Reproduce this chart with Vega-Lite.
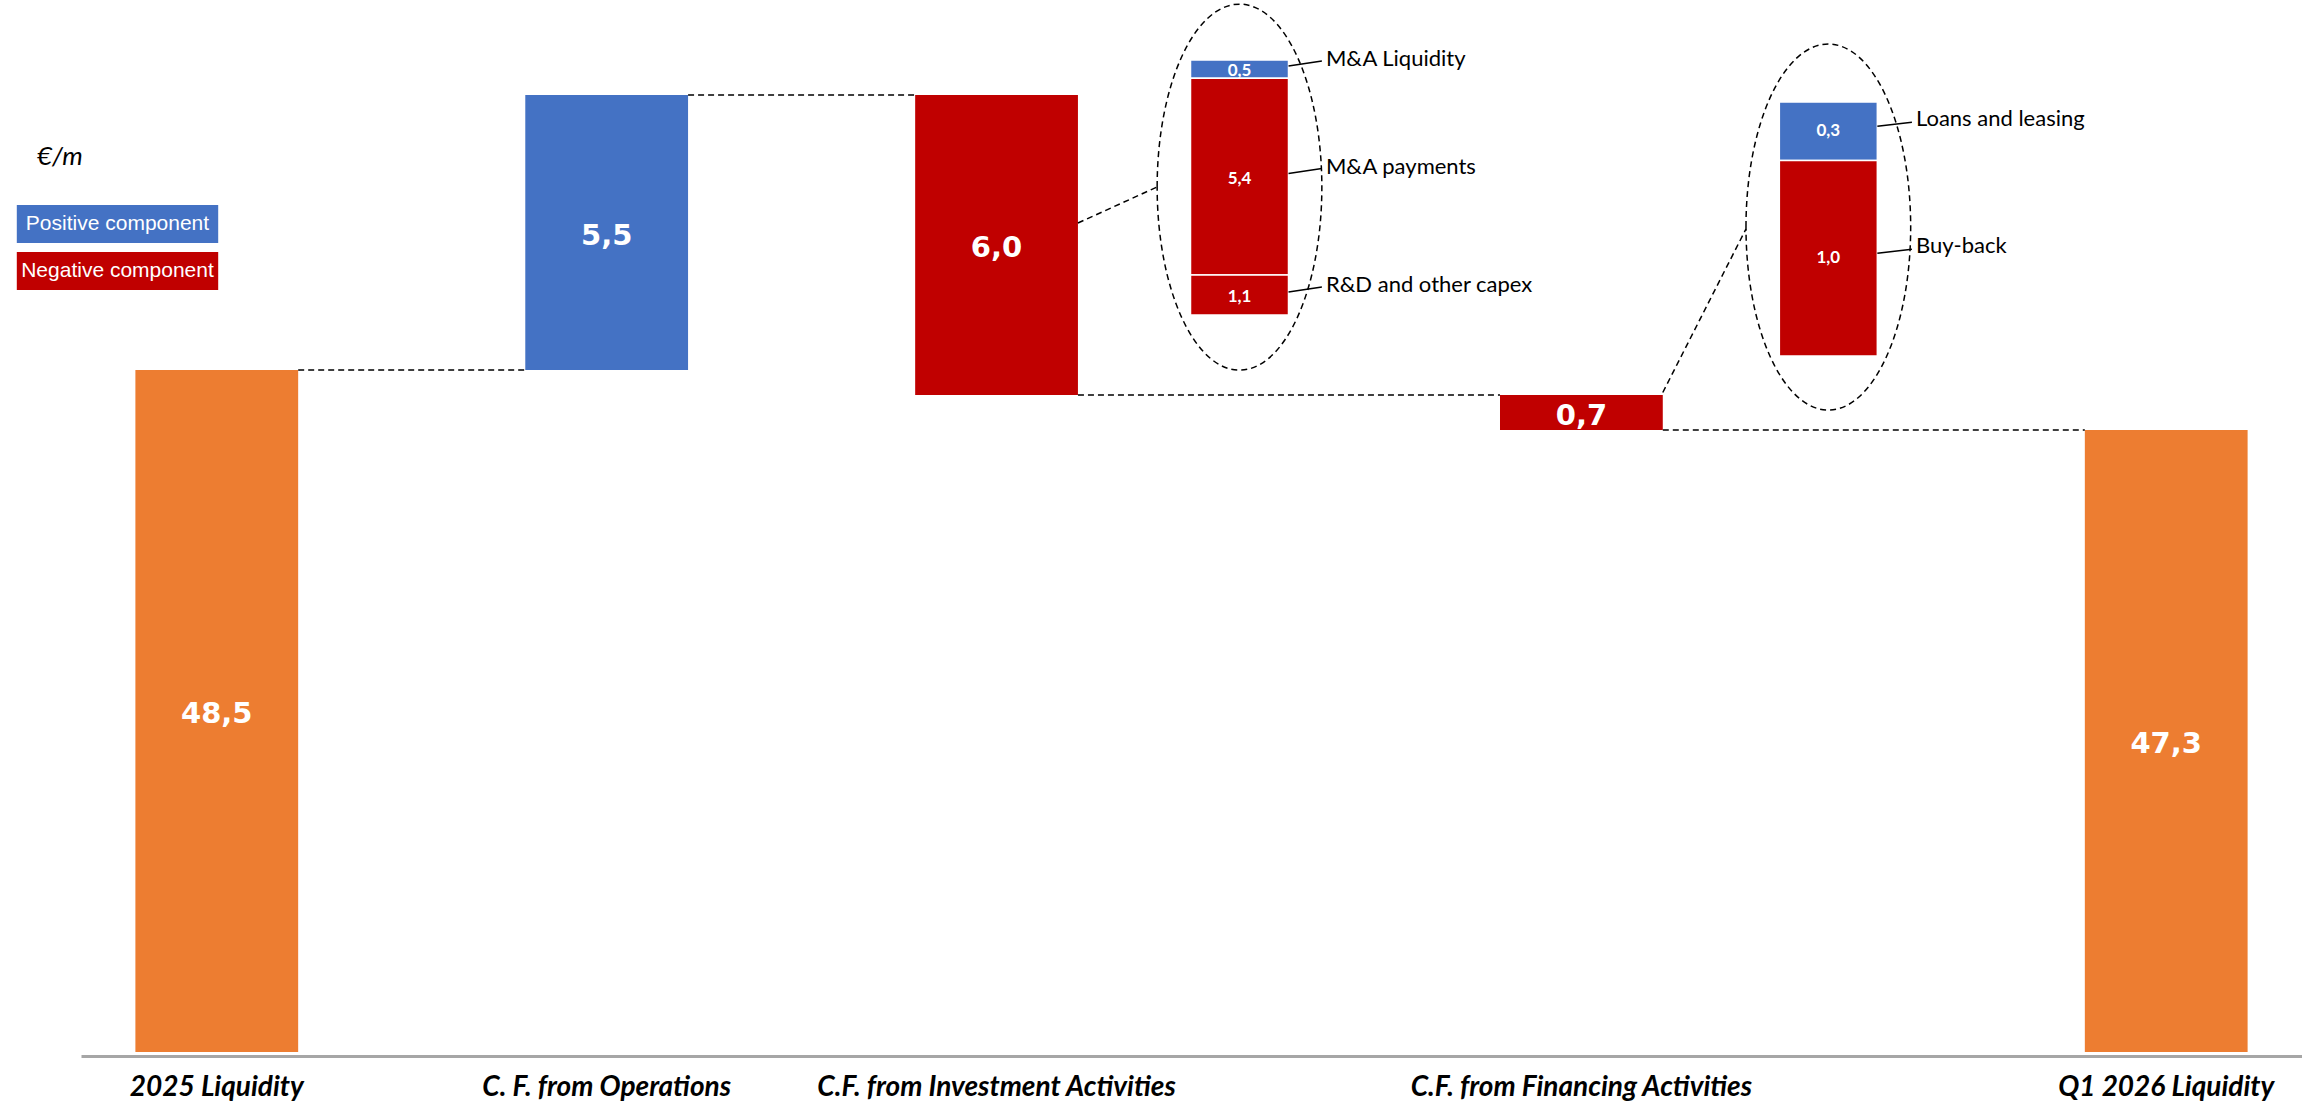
{
  "$schema": "https://vega.github.io/schema/vega-lite/v6.json",
  "width": 2221,
  "height": 1052,
  "autosize": {"type": "none"},
  "padding": {"left": 81, "top": 0, "right": 0, "bottom": 53},
  "background": "white",
  "title": {"text": "€/m", "anchor": "start", "frame": "group", "orient": "top", "offset": 0, "baseline": "middle", "dx": -44, "dy": 183, "fontSize": 26, "fontStyle": "italic", "fontWeight": "normal", "font": "Lato", "color": "black"},
  "config": {
    "view": {"stroke": null},
    "axisX": {"title": null, "ticks": false, "grid": false, "domainColor": "#a6a6a6", "domainWidth": 3, "offset": 4, "labelFont": "Lato", "labelFontSize": 28, "labelFontWeight": "bold", "labelFontStyle": "italic", "labelColor": "black", "labelPadding": 17, "labelAngle": 0, "labelLimit": 600, "labelExpr": "length(datum.label) < 3 ? '' : datum.label"},
    "axisY": {"disable": true}
  },
  "datasets": {
    "main": [
      {"cat": "2025 Liquidity", "start": 0, "end": 48.5, "type": "Total", "label": "48,5"},
      {"cat": "C. F. from Operations", "start": 48.5, "end": 54.0, "type": "Positive component", "label": "5,5"},
      {"cat": "C.F. from Investment Activities", "start": 54.0, "end": 48.0, "type": "Negative component", "label": "6,0"},
      {"cat": "C.F. from Financing Activities", "start": 48.0, "end": 47.3, "type": "Negative component", "label": "0,7"},
      {"cat": "Q1 2026 Liquidity", "start": 0, "end": 47.3, "type": "Total", "label": "47,3"}
    ],
    "conn": [
      {"from": "2025 Liquidity", "to": "C. F. from Operations", "level": 48.5},
      {"from": "C. F. from Operations", "to": "C.F. from Investment Activities", "level": 54.0},
      {"from": "C.F. from Investment Activities", "to": "C.F. from Financing Activities", "level": 48.0},
      {"from": "C.F. from Financing Activities", "to": "Q1 2026 Liquidity", "level": 47.3}
    ],
    "inv": [
      {"cat": "s5", "seg": "M&A Liquidity", "start": 6.5, "end": 7.0, "type": "Positive component", "label": "0,5"},
      {"cat": "s5", "seg": "M&A payments", "start": 1.1, "end": 6.5, "type": "Negative component", "label": "5,4"},
      {"cat": "s5", "seg": "R&D and other capex", "start": 0, "end": 1.1, "type": "Negative component", "label": "1,1"}
    ],
    "fin": [
      {"cat": "s8", "seg": "Loans and leasing", "start": 1.0, "end": 1.3, "type": "Positive component", "label": "0,3"},
      {"cat": "s8", "seg": "Buy-back", "start": 0, "end": 1.0, "type": "Negative component", "label": "1,0"}
    ]
  },
  "layer": [
    {
      "data": {"name": "main"},
      "layer": [
        {
          "mark": {"type": "bar", "clip": true},
          "encoding": {
            "x": {"field": "cat", "type": "nominal", "sort": null,
              "scale": {"domain": ["2025 Liquidity", "s1", "C. F. from Operations", "s3", "C.F. from Investment Activities", "s5", "s6", "C.F. from Financing Activities", "s8", "s9", "Q1 2026 Liquidity"], "paddingInner": 0.165, "paddingOuter": 0.279}},
            "y": {"field": "start", "type": "quantitative", "scale": {"domain": [34.86, 55.9], "zero": false, "nice": false}},
            "y2": {"field": "end"},
            "color": {"field": "type", "type": "nominal",
              "scale": {"domain": ["Total", "Positive component", "Negative component"], "range": ["#ED7D31", "#4472C4", "#C00000"]},
              "legend": {"values": ["Positive component", "Negative component"], "orient": "none", "legendX": 17.5, "legendY": 205, "title": null, "padding": 0,
                "symbolType": "M -5.3 -1 H 5.3 V 1 H -5.3 Z", "symbolSize": 1444, "symbolStrokeWidth": 0, "symbolOpacity": 1,
                "labelAlign": "center", "labelOffset": -19, "labelColor": "white", "labelFont": "Liberation Sans", "labelFontSize": 21, "rowPadding": 9, "labelLimit": 400}}
          }
        },
        {
          "data": {"name": "conn"},
          "mark": {"type": "rule", "strokeDash": [6, 4], "strokeWidth": 1.5, "color": "black", "xOffset": 81.4, "x2Offset": -81.4},
          "encoding": {
            "x": {"field": "from", "type": "nominal", "scale": {"domain": ["2025 Liquidity", "s1", "C. F. from Operations", "s3", "C.F. from Investment Activities", "s5", "s6", "C.F. from Financing Activities", "s8", "s9", "Q1 2026 Liquidity"], "paddingInner": 0.165, "paddingOuter": 0.279}},
            "x2": {"field": "to"},
            "y": {"field": "level", "type": "quantitative", "scale": {"domain": [34.86, 55.9], "zero": false, "nice": false}}
          }
        },
        {
          "data": {"values": [{"from": "C.F. from Investment Activities", "to": "s5", "a": 51.44, "b": 52.16}]},
          "mark": {"type": "rule", "strokeDash": [6, 4], "strokeWidth": 1.5, "color": "black", "xOffset": 81.4, "x2Offset": -34.4},
          "encoding": {
            "x": {"field": "from", "type": "nominal", "scale": {"domain": ["2025 Liquidity", "s1", "C. F. from Operations", "s3", "C.F. from Investment Activities", "s5", "s6", "C.F. from Financing Activities", "s8", "s9", "Q1 2026 Liquidity"], "paddingInner": 0.165, "paddingOuter": 0.279}},
            "x2": {"field": "to"},
            "y": {"field": "a", "type": "quantitative", "scale": {"domain": [34.86, 55.9], "zero": false, "nice": false}},
            "y2": {"field": "b"}
          }
        },
        {
          "data": {"values": [{"from": "C.F. from Financing Activities", "to": "s8", "a": 48.05, "b": 51.32}]},
          "mark": {"type": "rule", "strokeDash": [6, 4], "strokeWidth": 1.5, "color": "black", "xOffset": 81.4, "x2Offset": -30.4},
          "encoding": {
            "x": {"field": "from", "type": "nominal", "scale": {"domain": ["2025 Liquidity", "s1", "C. F. from Operations", "s3", "C.F. from Investment Activities", "s5", "s6", "C.F. from Financing Activities", "s8", "s9", "Q1 2026 Liquidity"], "paddingInner": 0.165, "paddingOuter": 0.279}},
            "x2": {"field": "to"},
            "y": {"field": "a", "type": "quantitative", "scale": {"domain": [34.86, 55.9], "zero": false, "nice": false}},
            "y2": {"field": "b"}
          }
        },
        {
          "transform": [{"calculate": "(max(datum.start, 34.86) + datum.end) / 2", "as": "mid"}],
          "mark": {"type": "text", "font": "DejaVu Sans", "fontWeight": "bold", "fontSize": 29, "color": "white", "baseline": "middle", "align": "center", "dy": 3},
          "encoding": {
            "x": {"field": "cat", "type": "nominal", "scale": {"domain": ["2025 Liquidity", "s1", "C. F. from Operations", "s3", "C.F. from Investment Activities", "s5", "s6", "C.F. from Financing Activities", "s8", "s9", "Q1 2026 Liquidity"], "paddingInner": 0.165, "paddingOuter": 0.279}},
            "y": {"field": "mid", "type": "quantitative", "scale": {"domain": [34.86, 55.9], "zero": false, "nice": false}},
            "text": {"field": "label"}
          }
        }
      ]
    },
    {
      "data": {"name": "inv"},
      "layer": [
        {
          "data": {"values": [{"cat": "s5"}]},
          "mark": {"type": "point", "shape": "M -0.45 0 C -0.45 -0.5523 -0.2486 -1 0 -1 C 0.2486 -1 0.45 -0.5523 0.45 0 C 0.45 0.5523 0.2486 1 0 1 C -0.2486 1 -0.45 0.5523 -0.45 0 Z", "size": 133956, "filled": false, "stroke": "black", "strokeWidth": 1.5, "strokeDash": [6, 4], "opacity": 1, "xOffset": 48},
          "encoding": {
            "x": {"field": "cat", "type": "nominal", "scale": {"domain": ["2025 Liquidity", "s1", "C. F. from Operations", "s3", "C.F. from Investment Activities", "s5", "s6", "C.F. from Financing Activities", "s8", "s9", "Q1 2026 Liquidity"], "paddingInner": 0.165, "paddingOuter": 0.279}},
            "y": {"datum": 3.51, "type": "quantitative", "scale": {"domain": [-20.23, 8.647], "zero": false, "nice": false}}
          }
        },
        {
          "mark": {"type": "bar", "width": 98, "xOffset": 48, "stroke": "white", "strokeWidth": 1.5},
          "encoding": {
            "x": {"field": "cat", "type": "nominal", "scale": {"domain": ["2025 Liquidity", "s1", "C. F. from Operations", "s3", "C.F. from Investment Activities", "s5", "s6", "C.F. from Financing Activities", "s8", "s9", "Q1 2026 Liquidity"], "paddingInner": 0.165, "paddingOuter": 0.279}},
            "y": {"field": "start", "type": "quantitative", "scale": {"domain": [-20.23, 8.647], "zero": false, "nice": false}},
            "y2": {"field": "end"},
            "color": {"field": "type", "type": "nominal", "legend": null, "scale": {"domain": ["Total", "Positive component", "Negative component"], "range": ["#ED7D31", "#4472C4", "#C00000"]}}
          }
        },
        {
          "transform": [{"calculate": "(datum.start + datum.end) / 2", "as": "mid"}],
          "mark": {"type": "text", "font": "Lato", "fontWeight": "bold", "fontSize": 17, "color": "white", "baseline": "middle", "align": "center", "xOffset": 48, "dy": 2},
          "encoding": {
            "x": {"field": "cat", "type": "nominal", "scale": {"domain": ["2025 Liquidity", "s1", "C. F. from Operations", "s3", "C.F. from Investment Activities", "s5", "s6", "C.F. from Financing Activities", "s8", "s9", "Q1 2026 Liquidity"], "paddingInner": 0.165, "paddingOuter": 0.279}},
            "y": {"field": "mid", "type": "quantitative", "scale": {"domain": [-20.23, 8.647], "zero": false, "nice": false}},
            "text": {"field": "label"}
          }
        },
        {
          "transform": [{"calculate": "(datum.start + datum.end) / 2", "as": "mid"}],
          "mark": {"type": "rule", "color": "black", "strokeWidth": 1.5, "xOffset": 97, "x2Offset": 130.4, "yOffset": -3, "y2Offset": -8},
          "encoding": {
            "x": {"field": "cat", "type": "nominal", "scale": {"domain": ["2025 Liquidity", "s1", "C. F. from Operations", "s3", "C.F. from Investment Activities", "s5", "s6", "C.F. from Financing Activities", "s8", "s9", "Q1 2026 Liquidity"], "paddingInner": 0.165, "paddingOuter": 0.279}},
            "x2": {"field": "cat"},
            "y": {"field": "mid", "type": "quantitative", "scale": {"domain": [-20.23, 8.647], "zero": false, "nice": false}},
            "y2": {"field": "mid"}
          }
        },
        {
          "transform": [{"calculate": "(datum.start + datum.end) / 2", "as": "mid"}],
          "mark": {"type": "text", "font": "Lato", "fontSize": 22, "color": "black", "baseline": "middle", "align": "left", "xOffset": 134.4, "yOffset": -10},
          "encoding": {
            "x": {"field": "cat", "type": "nominal", "scale": {"domain": ["2025 Liquidity", "s1", "C. F. from Operations", "s3", "C.F. from Investment Activities", "s5", "s6", "C.F. from Financing Activities", "s8", "s9", "Q1 2026 Liquidity"], "paddingInner": 0.165, "paddingOuter": 0.279}},
            "y": {"field": "mid", "type": "quantitative", "scale": {"domain": [-20.23, 8.647], "zero": false, "nice": false}},
            "text": {"field": "seg"}
          }
        }
      ]
    },
    {
      "data": {"name": "fin"},
      "layer": [
        {
          "data": {"values": [{"cat": "s8"}]},
          "mark": {"type": "point", "shape": "M -0.45 0 C -0.45 -0.5523 -0.2486 -1 0 -1 C 0.2486 -1 0.45 -0.5523 0.45 0 C 0.45 0.5523 0.2486 1 0 1 C -0.2486 1 -0.45 0.5523 -0.45 0 Z", "size": 133956, "filled": false, "stroke": "black", "strokeWidth": 1.5, "strokeDash": [6, 4], "opacity": 1, "xOffset": 52},
          "encoding": {
            "x": {"field": "cat", "type": "nominal", "scale": {"domain": ["2025 Liquidity", "s1", "C. F. from Operations", "s3", "C.F. from Investment Activities", "s5", "s6", "C.F. from Financing Activities", "s8", "s9", "Q1 2026 Liquidity"], "paddingInner": 0.165, "paddingOuter": 0.279}},
            "y": {"datum": 0.66, "type": "quantitative", "scale": {"domain": [-3.562, 1.822], "zero": false, "nice": false}}
          }
        },
        {
          "mark": {"type": "bar", "width": 98, "xOffset": 52, "stroke": "white", "strokeWidth": 1.5},
          "encoding": {
            "x": {"field": "cat", "type": "nominal", "scale": {"domain": ["2025 Liquidity", "s1", "C. F. from Operations", "s3", "C.F. from Investment Activities", "s5", "s6", "C.F. from Financing Activities", "s8", "s9", "Q1 2026 Liquidity"], "paddingInner": 0.165, "paddingOuter": 0.279}},
            "y": {"field": "start", "type": "quantitative", "scale": {"domain": [-3.562, 1.822], "zero": false, "nice": false}},
            "y2": {"field": "end"},
            "color": {"field": "type", "type": "nominal", "legend": null, "scale": {"domain": ["Total", "Positive component", "Negative component"], "range": ["#ED7D31", "#4472C4", "#C00000"]}}
          }
        },
        {
          "transform": [{"calculate": "(datum.start + datum.end) / 2", "as": "mid"}],
          "mark": {"type": "text", "font": "Lato", "fontWeight": "bold", "fontSize": 17, "color": "white", "baseline": "middle", "align": "center", "xOffset": 52},
          "encoding": {
            "x": {"field": "cat", "type": "nominal", "scale": {"domain": ["2025 Liquidity", "s1", "C. F. from Operations", "s3", "C.F. from Investment Activities", "s5", "s6", "C.F. from Financing Activities", "s8", "s9", "Q1 2026 Liquidity"], "paddingInner": 0.165, "paddingOuter": 0.279}},
            "y": {"field": "mid", "type": "quantitative", "scale": {"domain": [-3.562, 1.822], "zero": false, "nice": false}},
            "text": {"field": "label"}
          }
        },
        {
          "transform": [{"calculate": "(datum.start + datum.end) / 2", "as": "mid"}],
          "mark": {"type": "rule", "color": "black", "strokeWidth": 1.5, "xOffset": 101, "x2Offset": 135.6, "yOffset": -5, "y2Offset": -9},
          "encoding": {
            "x": {"field": "cat", "type": "nominal", "scale": {"domain": ["2025 Liquidity", "s1", "C. F. from Operations", "s3", "C.F. from Investment Activities", "s5", "s6", "C.F. from Financing Activities", "s8", "s9", "Q1 2026 Liquidity"], "paddingInner": 0.165, "paddingOuter": 0.279}},
            "x2": {"field": "cat"},
            "y": {"field": "mid", "type": "quantitative", "scale": {"domain": [-3.562, 1.822], "zero": false, "nice": false}},
            "y2": {"field": "mid"}
          }
        },
        {
          "transform": [{"calculate": "(datum.start + datum.end) / 2", "as": "mid"}],
          "mark": {"type": "text", "font": "Lato", "fontSize": 22, "color": "black", "baseline": "middle", "align": "left", "xOffset": 139.6, "yOffset": -12},
          "encoding": {
            "x": {"field": "cat", "type": "nominal", "scale": {"domain": ["2025 Liquidity", "s1", "C. F. from Operations", "s3", "C.F. from Investment Activities", "s5", "s6", "C.F. from Financing Activities", "s8", "s9", "Q1 2026 Liquidity"], "paddingInner": 0.165, "paddingOuter": 0.279}},
            "y": {"field": "mid", "type": "quantitative", "scale": {"domain": [-3.562, 1.822], "zero": false, "nice": false}},
            "text": {"field": "seg"}
          }
        }
      ]
    }
  ],
  "resolve": {"scale": {"y": "independent"}}
}
